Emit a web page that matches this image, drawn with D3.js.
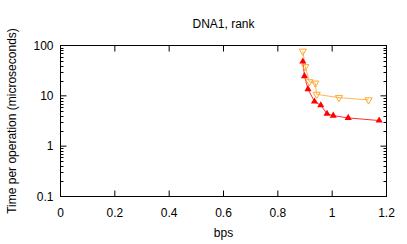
<!DOCTYPE html>
<html>
<head>
<meta charset="utf-8">
<script src="https://cdn.jsdelivr.net/npm/d3@7"></script>
<style>
  body { margin: 0; background: #fff; }
  svg text { font-family: "Liberation Sans", Arial, sans-serif; font-size: 12px; fill: #000; }
</style>
</head>
<body>
<div id="chart"></div>
<script>
const WIDTH = 407;
const HEIGHT = 244;
const MARGIN = { left: 60.5, right: 20.5, top: 45.5, bottom: 47.5 };

// red series (filled up triangles)
const redBps = [0.892, 0.898, 0.911, 0.935, 0.958, 0.981, 1.004, 1.059, 1.173];
const redTime = [48, 24.7, 13.6, 7.7, 6.5, 4.4, 4.05, 3.64, 3.23];
// orange series (open down triangles)
const orangeBps = [0.892, 0.901, 0.916, 0.938, 0.943, 1.025, 1.134];
const orangeTime = [77, 38, 19, 17.9, 10.7, 9.2, 8.3];

const xTicks = [0, 0.2, 0.4, 0.6, 0.8, 1, 1.2];
const yTicks = [0.1, 1, 10, 100];

const svg = d3.select('#chart')
  .append('svg')
  .attr('width', WIDTH)
  .attr('height', HEIGHT);

const x = d3.scaleLinear()
  .domain([0, 1.2])
  .range([MARGIN.left, WIDTH - MARGIN.right]);

const y = d3.scaleLog()
  .domain([0.1, 100])
  .range([HEIGHT - MARGIN.bottom, MARGIN.top]);

// minor ticks for log axis: 2..9 in each decade
const minorY = [];
[0.1, 1, 10].forEach(d => { for (let k = 2; k < 10; k++) minorY.push(d * k); });

// major/minor ticks, gnuplot-ish: pointing inward, mirrored
const tickG = svg.append('g').attr('stroke', '#000').attr('stroke-width', 1);
xTicks.slice(1, -1).forEach(t => {
  tickG.append('line').attr('x1', x(t)).attr('x2', x(t)).attr('y1', y(0.1)).attr('y2', y(0.1) - 6);
  tickG.append('line').attr('x1', x(t)).attr('x2', x(t)).attr('y1', y(100)).attr('y2', y(100) + 6);
});
yTicks.slice(1, -1).forEach(t => {
  tickG.append('line').attr('x1', x(0)).attr('x2', x(0) + 6).attr('y1', y(t)).attr('y2', y(t));
  tickG.append('line').attr('x1', x(1.2)).attr('x2', x(1.2) - 6).attr('y1', y(t)).attr('y2', y(t));
});
minorY.forEach(t => {
  const py = Math.round(y(t)) + 0.5;
  tickG.append('line').attr('x1', x(0)).attr('x2', x(0) + 3).attr('y1', py).attr('y2', py);
  tickG.append('line').attr('x1', x(1.2)).attr('x2', x(1.2) - 3).attr('y1', py).attr('y2', py);
});

// frame
svg.append('rect')
  .attr('x', x(0))
  .attr('y', y(100))
  .attr('width', x(1.2) - x(0))
  .attr('height', y(0.1) - y(100))
  .attr('fill', 'none')
  .attr('stroke', '#000')
  .attr('stroke-width', 1);

// tick labels
svg.append('g').selectAll('text')
  .data(xTicks)
  .enter()
  .append('text')
  .attr('x', d => x(d))
  .attr('y', HEIGHT - MARGIN.bottom + 20)
  .attr('text-anchor', 'middle')
  .text(d => d);

svg.append('g').selectAll('text')
  .data(yTicks)
  .enter()
  .append('text')
  .attr('x', MARGIN.left - 7)
  .attr('y', d => y(d) + 4)
  .attr('text-anchor', 'end')
  .text(d => d);

// titles
svg.append('text')
  .attr('x', (MARGIN.left + WIDTH - MARGIN.right) / 2)
  .attr('y', 28)
  .attr('text-anchor', 'middle')
  .text('DNA1, rank');

svg.append('text')
  .attr('x', (MARGIN.left + WIDTH - MARGIN.right) / 2)
  .attr('y', 237)
  .attr('text-anchor', 'middle')
  .text('bps');

svg.append('text')
  .attr('transform', `translate(16, ${(MARGIN.top + HEIGHT - MARGIN.bottom) / 2}) rotate(-90)`)
  .attr('text-anchor', 'middle')
  .text('Time per operation (microseconds)');

// series
const line = d3.line().x(d => x(d[0])).y(d => y(d[1]));
const redData = d3.zip(redBps, redTime);
const orangeData = d3.zip(orangeBps, orangeTime);

svg.append('path')
  .datum(orangeData)
  .attr('d', line)
  .attr('fill', 'none')
  .attr('stroke', '#ffb84d')
  .attr('stroke-width', 1);

svg.append('path')
  .datum(redData)
  .attr('d', line)
  .attr('fill', 'none')
  .attr('stroke', '#ff3030')
  .attr('stroke-width', 1);

const tri = d3.symbol().type(d3.symbolTriangle).size(22);

svg.append('g').selectAll('path')
  .data(orangeData)
  .enter()
  .append('path')
  .attr('d', tri)
  .attr('transform', d => `translate(${x(d[0])}, ${y(d[1])}) rotate(180)`)
  .attr('fill', 'none')
  .attr('stroke', '#ffa530')
  .attr('stroke-width', 1);

svg.append('g').selectAll('path')
  .data(redData)
  .enter()
  .append('path')
  .attr('d', tri)
  .attr('transform', d => `translate(${x(d[0])}, ${y(d[1])})`)
  .attr('fill', '#ff0000');
</script>
</body>
</html>
